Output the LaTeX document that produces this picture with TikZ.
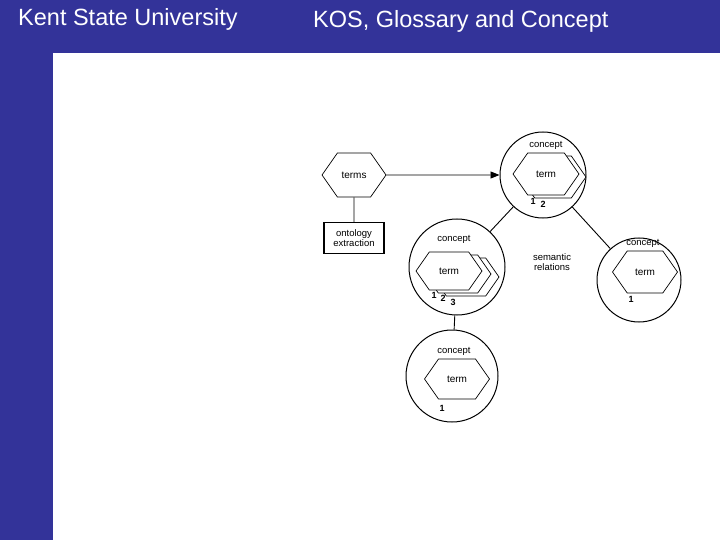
\documentclass[tikz,border=0pt]{standalone}
\usepackage{fontspec}
\setmainfont{Liberation Sans}
\usetikzlibrary{shapes.symbols,arrows.meta}
\definecolor{kblue}{HTML}{333399}
\begin{document}
\begin{tikzpicture}[x=1pt,y=-1pt,
  hex/.style={draw,line width=0.7pt,fill=white,shape=signal,signal to=west and east,signal pointer angle=110,inner sep=0pt,font=\fontsize{10}{11}\selectfont},
  circ/.style={draw,line width=1pt,circle,inner sep=0pt},
  lab/.style={font=\fontsize{9.5}{10.5}\selectfont,inner sep=0pt},
  num/.style={font=\bfseries\fontsize{9}{10}\selectfont,inner sep=0pt},
  ln/.style={line width=0.9pt}]
\useasboundingbox (0,0) rectangle (720,540);
\fill[kblue] (0,0) rectangle (720,53);
\fill[kblue] (0,0) rectangle (53,540);
\node[white,font=\fontsize{23.5}{25}\selectfont,anchor=west,inner sep=0pt] (h1) at (18,19) {Kent State University};
\node[white,font=\fontsize{23.5}{25}\selectfont,anchor=west,inner sep=0pt] (h2) at (313,21) {KOS, Glossary and Concept};
% circles
\node[circ,minimum size=86pt] (ctop) at (543,175) {};
\node[circ,minimum size=96pt] (cleft) at (457,267) {};
\node[circ,minimum size=84pt] (cright) at (639,280) {};
\node[circ,minimum size=92pt] (cbot) at (452,376) {};
% terms
\node[hex,minimum width=64pt,minimum height=44pt] (terms) at (354,175) {terms};
\node[draw,line width=1.3pt,minimum width=60pt,minimum height=31pt,align=center,inner sep=1pt,font=\fontsize{9.5}{10.5}\selectfont] (onto) at (354,238) {ontology\\extraction};
% top term stack
\node[hex,minimum width=66pt,minimum height=42pt] (t2) at (553,177) {};
\node[hex,minimum width=66pt,minimum height=42pt] (t1) at (546,174) {term};
\node[lab] (l1) at (546,145) {concept};
\node[num] (n11) at (533,201) {1};
\node[num] (n12) at (543,204) {2};
% left term stack
\node[hex,minimum width=66pt,minimum height=38pt] (u3) at (466,277) {};
\node[hex,minimum width=66pt,minimum height=38pt] (u2) at (458,274) {};
\node[hex,minimum width=66pt,minimum height=38pt] (u1) at (449,271) {term};
\node[lab] (l2) at (454,239) {concept};
\node[num] (n21) at (434,295) {1};
\node[num] (n22) at (443,298) {2};
\node[num] (n23) at (453,302) {3};
% right
\node[hex,minimum width=65pt,minimum height=42pt] (r1) at (645,272) {term};
\node[lab] (l3) at (643,243) {concept};
\node[num] (n31) at (631,299) {1};
% bottom
\node[hex,minimum width=65pt,minimum height=40pt] (b1) at (457,379) {term};
\node[lab] (l4) at (454,351) {concept};
\node[num] (n41) at (442,408) {1};
\node[lab,align=center] (sem) at (552,262) {semantic\\relations};
% connectors
\draw[ln,-{Triangle[length=9pt,width=7pt]}] (terms) -- (ctop);
\draw[ln] (terms) -- (onto);
\draw[ln] (ctop) -- (cleft);
\draw[ln] (ctop) -- (cright);
\draw[ln] (cleft) -- (cbot);
\end{tikzpicture}
\end{document}
